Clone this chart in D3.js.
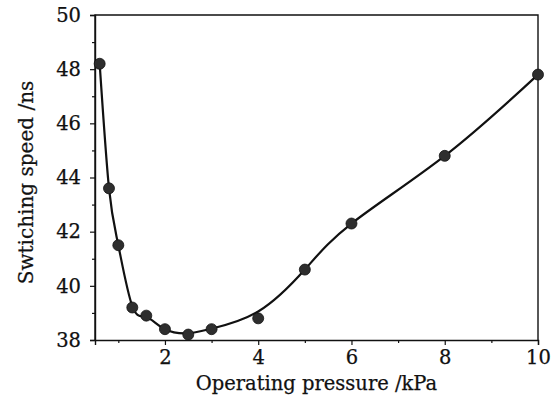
<!DOCTYPE html>
<html>
<head>
<meta charset="utf-8">
<script src="https://cdn.jsdelivr.net/npm/d3@7"></script>
<style>
  html, body { margin: 0; padding: 0; background: #fff; }
  svg { display: block; }
  text { font-family: "DejaVu Serif", "Liberation Serif", serif; fill: #111; stroke: #111; stroke-width: 0.25px; }
</style>
</head>
<body>
<svg id="chart" width="557" height="401"></svg>
<script>
// Measured switching speed versus operating pressure
const pressure = [0.6, 0.8, 1.0, 1.3, 1.6, 2.0, 2.5, 3.0, 4.0, 5.0, 6.0, 8.0, 10.0];
const speed    = [48.2, 43.6, 41.5, 39.2, 38.9, 38.4, 38.2, 38.4, 38.8, 40.6, 42.3, 44.8, 47.8];
// Smoothed trend line values at the same pressures
const fitSpeed = [48.2, 43.6, 41.5, 39.25, 38.85, 38.4, 38.25, 38.42, 39.05, 40.6, 42.3, 44.8, 47.8];

const xTicks = [2, 4, 6, 8, 10];
const xMinor = [1, 3, 5, 7, 9];
const yTicks = [38, 40, 42, 44, 46, 48, 50];
const yMinor = [39, 41, 43, 45, 47, 49];

const xTitle = "Operating pressure /kPa";
const yTitle = "Swtiching speed /ns";

const W = 557, H = 401;
const margin = { top: 15, right: 19, bottom: 61, left: 95 };
const iw = W - margin.left - margin.right;
const ih = H - margin.top - margin.bottom;

const svg = d3.select("#chart");
const g = svg.append("g").attr("transform", `translate(${margin.left},${margin.top})`);

const x = d3.scaleLinear().domain([0.5, 10]).range([0, iw]);
const y = d3.scaleLinear().domain([38, 50]).range([ih, 0]);

// Frame (top and right edges without ticks)
g.append("path")
  .attr("d", `M0,${ih}V0H${iw}V${ih}`)
  .attr("fill", "none").attr("stroke", "#111").attr("stroke-width", 1.4);

// Bottom axis
g.append("g").attr("transform", `translate(0,${ih})`)
  .call(d3.axisBottom(x).tickValues(xTicks).tickFormat(d3.format("d")).tickSize(5).tickPadding(5));
g.append("g").attr("transform", `translate(0,${ih})`)
  .call(d3.axisBottom(x).tickValues(xMinor).tickFormat("").tickSize(3))
  .call(a => a.select(".domain").remove());

// Left axis
g.append("g")
  .call(d3.axisLeft(y).tickValues(yTicks).tickFormat(d3.format("d")).tickSize(5).tickPadding(9));
g.append("g")
  .call(d3.axisLeft(y).tickValues(yMinor).tickFormat("").tickSize(3))
  .call(a => a.select(".domain").remove());

g.selectAll(".domain").attr("stroke", "#111").attr("stroke-width", 1.4);
g.selectAll(".tick line").attr("stroke", "#111").attr("stroke-width", 1.2);
g.selectAll(".tick text")
  .style("font-family", '"DejaVu Serif", serif')
  .style("font-size", "19.5px")
  .attr("fill", "#111");

// Axis titles
svg.append("text")
  .attr("x", margin.left + iw / 2)
  .attr("y", 390)
  .attr("text-anchor", "middle")
  .style("font-size", "19.5px")
  .text(xTitle);

svg.append("text")
  .attr("transform", `translate(33,${margin.top + ih / 2 + 5}) rotate(-90)`)
  .attr("text-anchor", "middle")
  .style("font-size", "20px")
  .text(yTitle);

// Trend line
const line = d3.line()
  .x((d, i) => x(pressure[i]))
  .y(d => y(d))
  .curve(d3.curveNatural);

g.append("path")
  .datum(fitSpeed)
  .attr("d", line)
  .attr("fill", "none")
  .attr("stroke", "#111")
  .attr("stroke-width", 2.2);

// Measured points
g.selectAll("circle.pt")
  .data(speed)
  .join("circle")
  .attr("class", "pt")
  .attr("cx", (d, i) => x(pressure[i]))
  .attr("cy", d => y(d))
  .attr("r", 5.5)
  .attr("fill", "#2e2e2e")
  .attr("stroke", "#111")
  .attr("stroke-width", 0.8);
</script>
</body>
</html>
